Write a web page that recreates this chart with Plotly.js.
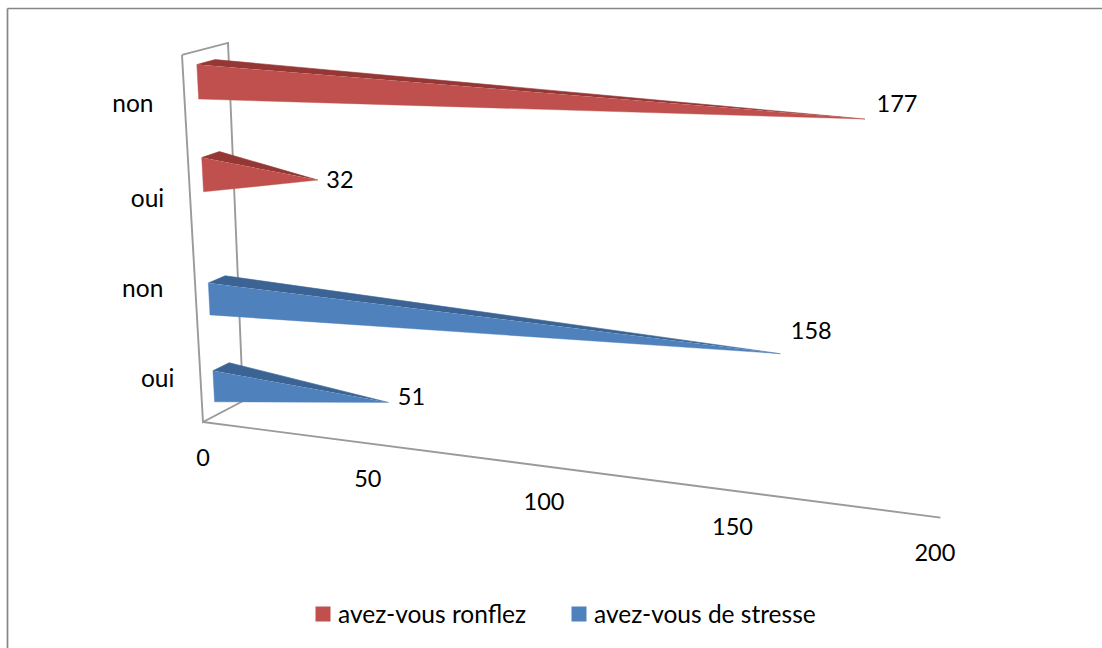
<!DOCTYPE html>
<html>
<head>
<meta charset="utf-8">
<script src="https://cdn.plot.ly/plotly-3.0.1.min.js"></script>
<style>html,body{margin:0;padding:0;background:#fff}#chart{width:1102px;height:648px}</style>
</head>
<body>
<div id="chart"></div>
<script>
// Survey answers, four horizontal slots from the floor upward
const categories = ['oui', 'non', 'oui', 'non'];
const stressValues = [51, 158, null, null];
const snoreValues = [null, null, 32, 177];
const valueTicks = [0, 50, 100, 150, 200];
const stressName = 'avez-vous de stresse';
const snoreName = 'avez-vous ronflez';

// Colours
const RED = '#C0504D', RED_DARK = '#953735';
const BLUE = '#4F81BD', BLUE_DARK = '#3B6495';
const WALL = '#9A9A9A', FRAME = '#868686';
const FONT = 'Lato, Carlito, sans-serif';
const SIZE_WORDS = 24.5, SIZE_DIGITS = 23.5;

// Vanishing points of the oblique view, in plot units
const ORIGIN = [203, 422];
const V_VALUE = [-4750, -220];
const V_SLOT = [356, 3094];
const V_DEPTH = [1614, -319];
const K_SLOT = -0.0302, K_DEPTH = 0.0292;
const VALUE_RATE = 3.192, VALUE_PERSP = 0.000639;

// Position on the wall plane for a slot height s and a depth d (0 front, 1 back)
function wallPoint(s, d) {
  const a = K_SLOT * s, b = K_DEPTH * d, w = 1 + a + b;
  return [
    (ORIGIN[0] + a * V_SLOT[0] + b * V_DEPTH[0]) / w,
    (ORIGIN[1] + a * V_SLOT[1] + b * V_DEPTH[1]) / w
  ];
}

// Full projection of value v, slot height s and depth d
function project(v, s, d, gain) {
  const p = wallPoint(s, d);
  const dx = VALUE_RATE * v / (1 - VALUE_PERSP * v) * (gain === undefined ? 0.985 + 0.013 * s : gain);
  const slope = (p[1] - V_VALUE[1]) / (p[0] - V_VALUE[0]);
  return [p[0] + dx, p[1] + slope * dx];
}

function polyTrace(points, color, edge) {
  return {
    type: 'scatter', mode: 'lines', fill: 'toself', fillcolor: color,
    x: points.map(p => p[0]), y: points.map(p => p[1]),
    line: {width: edge, color: color}, hoverinfo: 'skip', showlegend: false
  };
}

function lineTrace(points) {
  return {
    type: 'scatter', mode: 'lines',
    x: points.map(p => p[0]), y: points.map(p => p[1]),
    line: {width: 1.9, color: WALL}, hoverinfo: 'skip', showlegend: false
  };
}

function textTrace(points, labels, size) {
  return {
    type: 'scatter', mode: 'text', textposition: 'middle center',
    x: points.map(p => p[0]), y: points.map(p => p[1]), text: labels,
    textfont: {family: FONT, size: size, color: '#000'},
    hoverinfo: 'skip', showlegend: false
  };
}

// Band of each slot occupied by its bar, and the depth span of the bars
const bandStart = [0.17, 1.21, 2.575, 3.53];
const bandEnd = [0.55, 1.575, 2.935, 3.87];
const DEPTH_FRONT = 0.3, DEPTH_BACK = 0.7, DEPTH_MID = 0.5;
const traces = [];

// Back wall and floor edges
const AXIS_END = 201.3;
traces.push(lineTrace([wallPoint(4, 0), wallPoint(4, 1), wallPoint(0, 1), wallPoint(0, 0), wallPoint(4, 0)]));
traces.push(lineTrace([project(0, 0, 0, 1), project(AXIS_END, 0, 0, 1)]));

// Pyramidal bars: visible front and top faces meeting at the value tip
function addSeries(values, front, top) {
  values.forEach((v, i) => {
    if (v === null) return;
    const lo = bandStart[i], hi = bandEnd[i];
    const tip = project(v, (lo + hi) / 2, DEPTH_MID);
    traces.push(polyTrace([wallPoint(hi, DEPTH_FRONT), wallPoint(hi, DEPTH_BACK), tip], top, 0.6));
    traces.push(polyTrace([wallPoint(hi, DEPTH_FRONT), wallPoint(lo, DEPTH_FRONT), tip], front, 0.4));
  });
}
addSeries(stressValues, BLUE, BLUE_DARK);
addSeries(snoreValues, RED, RED_DARK);

// Value labels beside each tip
const valueNudge = [[23, -3], [31, -21], [22, 2], [32, -13]];
const valuePts = [], valueText = [];
categories.forEach((c, i) => {
  const v = stressValues[i] !== null ? stressValues[i] : snoreValues[i];
  const tip = project(v, (bandStart[i] + bandEnd[i]) / 2, DEPTH_MID);
  valuePts.push([tip[0] + valueNudge[i][0], tip[1] + valueNudge[i][1]]);
  valueText.push(String(v));
});
traces.push(textTrace(valuePts, valueText, SIZE_DIGITS));

// Value axis tick labels under the floor edge
const TICK_DROP = 38;
traces.push(textTrace(valueTicks.map(t => {
  const p = project(t, 0, 0, 1);
  return [p[0], p[1] + TICK_DROP];
}), valueTicks.map(String), SIZE_DIGITS));

// Category labels left of the wall
const categoryNudge = [[-43, 0], [-53, -4], [-43, -3], [-52, 0]];
traces.push(textTrace(categories.map((c, i) => {
  const p = wallPoint(i + 0.5, 0);
  return [p[0] + categoryNudge[i][0], p[1] + categoryNudge[i][1]];
}), categories, SIZE_WORDS));

// Legend entries, one independently placed legend per series
[[snoreName, RED, 'legend'], [stressName, BLUE, 'legend2']].forEach(([name, color, legendId]) => {
  traces.push({
    type: 'scatter', mode: 'markers', name: name, x: [null], y: [null], legend: legendId,
    marker: {symbol: 'square', size: 15, color: color}, hoverinfo: 'skip', showlegend: true
  });
});

function legendAt(left) {
  return {
    orientation: 'h', x: left / 1102, xanchor: 'left', y: 1 - 614 / 648, yanchor: 'middle',
    font: {family: FONT, size: SIZE_WORDS, color: '#000'}, bgcolor: 'rgba(0,0,0,0)'
  };
}

const layout = {
  width: 1102, height: 648,
  margin: {l: 0, r: 0, t: 0, b: 0},
  paper_bgcolor: '#fff', plot_bgcolor: '#fff',
  xaxis: {range: [0, 1102], visible: false, fixedrange: true},
  yaxis: {range: [648, 0], visible: false, fixedrange: true},
  showlegend: true,
  legend: legendAt(298),
  legend2: legendAt(554),
  shapes: [
    {type: 'line', xref: 'x', yref: 'y', x0: 7.5, x1: 1102, y0: 8.5, y1: 8.5, line: {color: FRAME, width: 1.7}},
    {type: 'line', xref: 'x', yref: 'y', x0: 7.5, x1: 7.5, y0: 8.5, y1: 648, line: {color: FRAME, width: 1.7}}
  ]
};

Plotly.newPlot('chart', traces, layout, {displayModeBar: false, staticPlot: true}).then(() => {
  // Tighten the gap between each legend swatch and its label
  document.querySelectorAll('.legendpoints').forEach(g => g.setAttribute('transform', 'translate(5,0)'));
});
</script>
</body>
</html>
